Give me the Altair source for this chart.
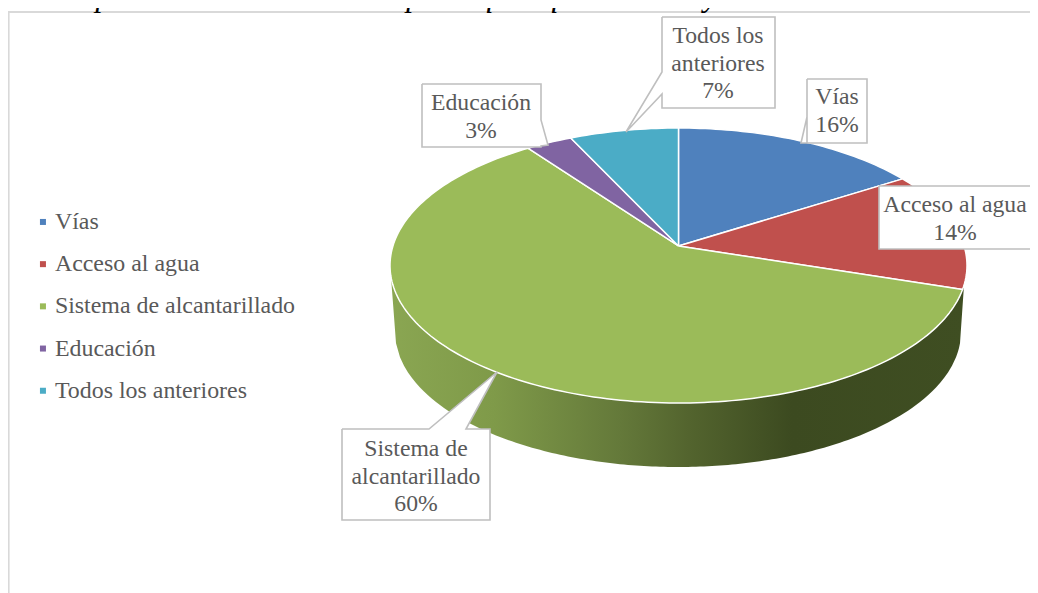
import numpy as np
import pandas as pd
import altair as alt

# ---- data ----
categories = ["Vías", "Acceso al agua", "Sistema de alcantarillado", "Educación", "Todos los anteriores"]
values = [16, 14, 60, 3, 7]
colors = ["#4F81BD", "#C0504D", "#9BBB59", "#8064A2", "#4BACC6"]
title_text = "Cambios para el desarrollo de la parroquia que no se hayan atendido"
label_lines = [["Vías"], ["Acceso al agua"], ["Sistema de", "alcantarillado"], ["Educación"], ["Todos los", "anteriores"]]

# ---- layout (page pixels) ----
W, H = 1030, 593
CX, CY, RX, RY = 678.5, 265.5, 288.5, 137.5      # top face
CX2, CY2, RX2, RY2 = 678.0, 332.0, 283.0, 135.0  # bottom face
V0 = 0.142                                        # perspective shift of the apex
FONT = "Liberation Serif"
TXT = "#595959"
BORDER = "#BFBFBF"
FRAME = "#D9D9D9"

xs = alt.X("x:Q", scale=alt.Scale(domain=[8, W], range=[0, W - 8], nice=False), axis=None)
ys = alt.Y("y:Q", scale=alt.Scale(domain=[8, H], range=[0, H - 8], nice=False), axis=None)


def face_point(phi):
    c, s = np.cos(phi), np.sin(phi)
    d = 1 + V0 * c
    return CX + RX * np.sqrt(1 - V0 ** 2) * s / d, CY - RY * (c + V0) / d


def polygon(chart_x, chart_y, **mark):
    df = pd.DataFrame({"x": chart_x, "y": chart_y, "i": range(len(chart_x))})
    return alt.Chart(df).mark_line(**mark).encode(x=xs, y=ys, order=alt.Order("i:Q"))


# legend carrier, hidden behind the pie
legend_df = pd.DataFrame({"x": [CX] * 5, "y": [CY] * 5, "cat": categories})
legend_layer = alt.Chart(legend_df).mark_point(filled=True, size=1, opacity=1).encode(
    x=xs, y=ys,
    color=alt.Color(
        "cat:N",
        scale=alt.Scale(domain=categories, range=colors),
        legend=alt.Legend(
            title=None, orient="none", legendX=23, legendY=202, padding=0,
            symbolType="square", symbolSize=36, symbolStrokeWidth=0,
            labelFont=FONT, labelFontSize=23.9, labelColor=TXT, labelOffset=0,
            rowPadding=17.2, labelLimit=400,
        ),
    ),
)

# side wall
wx = np.concatenate([np.linspace(391, 396, 6), np.arange(400, 956, 4.0), np.linspace(956, 964, 9)])
top = CY + RY * np.sqrt(np.clip(1 - ((wx - CX) / RX) ** 2, 0, 1))
low = CY2 + RY2 * np.sqrt(np.clip(1 - ((wx - CX2) / RX2) ** 2, 0, 1))
left_edge = wx < 396
right_edge = wx > 960
low[left_edge] = np.interp(wx[left_edge], [391, 396], [top[0], CY2 + 11])
low[right_edge] = np.interp(wx[right_edge], [960, 964], [CY2 + 11, top[-1]])
wall_df = pd.DataFrame({"x": wx, "y": top, "y2": low})
wall = alt.Chart(wall_df).mark_area(
    color=alt.Gradient(
        gradient="linear", x1=0, x2=1, y1=0, y2=0,
        stops=[
            alt.GradientStop(offset=0.0, color="#8AA652"),
            alt.GradientStop(offset=0.18, color="#7F9A49"),
            alt.GradientStop(offset=0.40, color="#64793A"),
            alt.GradientStop(offset=0.52, color="#53642E"),
            alt.GradientStop(offset=0.70, color="#3C4A20"),
            alt.GradientStop(offset=1.0, color="#3F4E22"),
        ],
    )
).encode(x=xs, y=ys, y2="y2:Q")

# top-face slices
slices = []
start = 0.0
total = sum(values)
for val, col in zip(values, colors):
    end = start + val / total * 2 * np.pi
    phi = np.linspace(start, end, max(int(val * 3), 8))
    px, py = face_point(phi)
    ax, ay = CX, CY - RY * V0
    slices.append(polygon(
        np.concatenate([[ax], px, [ax]]), np.concatenate([[ay], py, [ay]]),
        fill=col, stroke="white", strokeWidth=1.5, strokeJoin="round",
    ))
    start = end

# callouts: (box left, top, right, bottom), wedge points
callouts = [
    ((807, 79, 867, 143), [(807, 117), (801, 143), (807, 143)]),
    ((879, 186, 1045, 249), []),
    ((342, 429, 490, 520), [(429, 429), (497, 372), (466, 429)]),
    ((422, 84, 541, 147), [(541, 120), (548, 145), (541, 146)]),
    ((662, 17, 775, 108), [(662, 94), (626, 132), (662, 72)]),
]
wedge_side = ["left", None, "top", "right", "left"]
boxes = []
for (l, t, r, b), wedge, side in zip([c[0] for c in callouts], [c[1] for c in callouts], wedge_side):
    pts = [(l, t)]
    if side == "top":
        pts += wedge
    pts.append((r, t))
    if side == "right":
        pts += wedge
    pts += [(r, b), (l, b)]
    if side == "left":
        pts += wedge
    pts.append((l, t))
    boxes.append(polygon([p[0] for p in pts], [p[1] for p in pts],
                         fill="white", stroke=BORDER, strokeWidth=1.6, strokeJoin="miter",
                         clip=True))

# callout text
centers = [(837, 97), (955, 205), (416, 449), (481, 103), (718, 36)]
rows = []
for lines, val, (cx, cy) in zip(label_lines, values, centers):
    for k, s in enumerate(lines + [f"{val}%"]):
        rows.append({"x": cx, "y": cy + k * 27.5, "t": s})
label_text = alt.Chart(pd.DataFrame(rows)).mark_text(
    font=FONT, fontSize=23.7, color=TXT, align="center", baseline="middle"
).encode(x=xs, y=ys, text="t:N")

# frame (only its top and left sides are in the picture)
frame_top = alt.Chart(pd.DataFrame({"x": [8, W], "y": [12, 12]})).mark_line(color=FRAME, strokeWidth=2).encode(x=xs, y=ys)
frame_left = alt.Chart(pd.DataFrame({"x": [8.6, 8.6], "y": [12, H]})).mark_line(color=FRAME, strokeWidth=2).encode(x=xs, y=ys)

# cropped caption above the chart
title = alt.Chart(pd.DataFrame({"x": [870], "y": [6], "t": [title_text]})).mark_text(
    font=FONT, fontSize=32, fontStyle="italic", color="black", align="right", baseline="alphabetic"
).encode(x=xs, y=ys, text="t:N")

chart = alt.layer(
    legend_layer, frame_top, frame_left, title, wall, *slices, *boxes, label_text
).properties(width=W - 8, height=H - 8, padding=0, autosize=alt.AutoSizeParams(type="none")).configure_view(stroke=None)

chart.save("out.html", embed_options={"renderer": "svg", "actions": False})
